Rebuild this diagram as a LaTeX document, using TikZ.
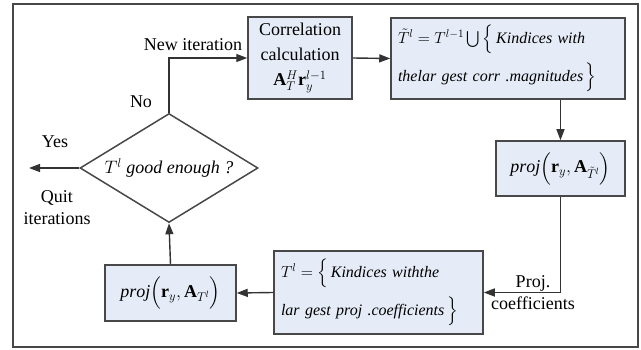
\RequirePackage{fix-cm}
\documentclass[tikz,border=0pt]{standalone}
\usepackage{amsmath,amssymb}
\usepackage{fontspec}
\setmainfont{Liberation Serif}
\usetikzlibrary{shapes.geometric,arrows.meta}
\definecolor{boxfill}{RGB}{230,236,247}
\definecolor{boxline}{RGB}{72,72,72}

\begin{document}
\begin{tikzpicture}[x=1pt,y=-1pt,
    font=\fontsize{18}{22}\selectfont,
    box/.style={draw=boxline,line width=1.5pt,fill=boxfill,inner sep=0pt},
    setbox/.style={box,text width=#1,inner xsep=7pt,align=left,font=\fontsize{16}{20}\selectfont},
    flow/.style={line width=1.4pt,draw=black!80,-{Triangle[length=11pt,width=8pt]}}]
    \useasboundingbox (0,0) rectangle (641,350);
    \draw[boxline,line width=1.5pt] (13,4) rectangle (638,347);
    \node[box,minimum width=104pt,minimum height=82pt,align=center,
      font=\fontsize{18}{25}\selectfont] (corr) at (300,58)
      {Correlation\\calculation\\$\mathbf{A}_{T}^{H}\mathbf{r}_{y}^{l-1}$};
    \node[setbox=220pt,minimum height=81pt] (tilde) at (508,58.5)
      {\mbox{$\tilde{T}^{l}=T^{l-1}\bigcup\Big\{\,\textit{Kindices with}$}\\[8pt]
       \mbox{\textit{thelar gest corr .magnitudes}$\,\Big\}$}};
    \node[box,minimum width=129pt,minimum height=55pt] (projR) at (560.5,168.5)
      {$\mathit{proj}\Big(\mathbf{r}_{y},\mathbf{A}_{\tilde{T}^{l}}\Big)$};
    \node[setbox=195pt,minimum height=83pt] (Tl) at (378.5,292.5)
      {\mbox{$T^{l}=\Big\{\,\textit{Kindices withthe}$}\\[8pt]
       \mbox{\textit{lar gest proj .coefficients}$\,\Big\}$}};
    \node[box,minimum width=131pt,minimum height=56pt] (projL) at (170.5,293)
      {$\mathit{proj}\Big(\mathbf{r}_{y},\mathbf{A}_{T^{l}}\Big)$};
    \node[diamond,draw=boxline,line width=1.5pt,minimum width=178pt,minimum height=109pt,
      inner sep=0pt] (check) at (169,168) {};
    \node (checktxt) at (check) {$T^{l}$ \textit{good enough ?}};
    \coordinate (quit) at (29,168);
    \draw[flow] (check.north) |- (corr.west);
    \draw[flow] (corr.east) -- (tilde.west);
    \draw[flow] (tilde.south -| projR.north) -- (projR.north);
    \draw[flow] (projR.south) |- (Tl.east);
    \draw[flow] (Tl.west) -- (projL.east);
    \draw[flow] (projL.north) -- (check.south);
    \draw[flow] (check.west) -- (quit);
    \node (newit) at (193,45) {New iteration};
    \node (no) at (141,102) {No};
    \node (yes) at (55,142) {Yes};
    \node[align=center] (quittxt) at (57,208) {Quit\\iterations};
    \node[align=center] (projcoef) at (533,293) {Proj.\\coefficients};
  \end{tikzpicture}
\end{document}
